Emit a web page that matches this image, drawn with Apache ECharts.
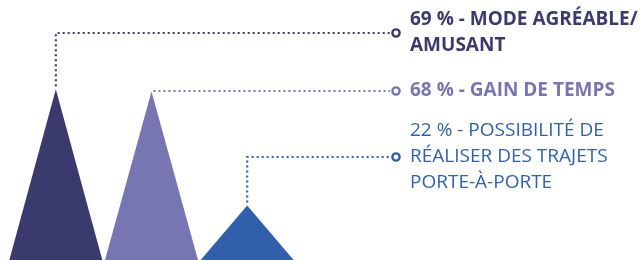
<!DOCTYPE html>
<html>
<head>
<meta charset="utf-8">
<script src="https://cdn.jsdelivr.net/npm/echarts@6/dist/echarts.min.js"></script>
<style>
html,body{margin:0;padding:0;background:#fff;}
#chart{width:641px;height:260px;}
</style>
</head>
<body>
<div id="chart"></div>
<script>
// ---- data ----
const categories = ['Mode agréable/amusant', 'Gain de temps', 'Trajets porte-à-porte'];
const values = [69, 68, 22];
const labelTexts = [
  ['MODE AGRÉABLE/', 'AMUSANT'],
  ['GAIN DE TEMPS'],
  ['POSSIBILITÉ DE', 'RÉALISER DES TRAJETS', 'PORTE-À-PORTE']
];
const colors = ['#3b3a6e', '#7776b3', '#325fab'];

// ---- layout ----
const anchorY = [33, 91, 157];
const circleX = 396;
const textX = 410;
const fontWeights = ['bold', 'bold', 'normal'];

const chart = echarts.init(document.getElementById('chart'));

function buildLabel(i) {
  const lines = labelTexts[i].slice();
  lines[0] = values[i] + ' % - ' + lines[0];
  return lines.join('\n');
}

chart.setOption({
  animation: false,
  grid: { left: 8, right: 346, top: 0, bottom: 0 },
  xAxis: { type: 'category', data: categories, show: false },
  yAxis: { type: 'value', min: 0, max: 105, show: false },
  series: [
    {
      type: 'pictorialBar',
      symbol: 'triangle',
      barWidth: 93,
      symbolSize: ['100%', '100%'],
      data: values.map((v, i) => ({ value: v, itemStyle: { color: colors[i] } })),
      z: 2
    },
    {
      type: 'custom',
      coordinateSystem: 'cartesian2d',
      clip: false,
      z: 3,
      data: values.map((v, i) => [i, v]),
      renderItem: function (params, api) {
        const i = params.dataIndex;
        const apex = api.coord([api.value(0), api.value(1)]);
        const ay = anchorY[i];
        const c = colors[i];
        let pts;
        if (Math.abs(apex[1] - ay) < 4) {
          pts = [[apex[0] + 2, ay], [circleX - 6, ay]];
        } else {
          pts = [[apex[0], apex[1] - 3], [apex[0], ay], [circleX - 6, ay]];
        }
        return {
          type: 'group',
          children: [
            {
              type: 'polyline',
              shape: { points: pts },
              style: { stroke: c, lineWidth: 2.2, lineDash: [2, 3], fill: null }
            },
            {
              type: 'circle',
              shape: { cx: circleX, cy: ay, r: 3.6 },
              style: { stroke: c, lineWidth: 2.4, fill: '#fff' }
            },
            {
              type: 'text',
              x: textX,
              y: ay,
              style: {
                text: buildLabel(i),
                fill: c,
                font: fontWeights[i] + ' 19px "Open Sans"',
                lineHeight: 26,
                align: 'left',
                verticalAlign: 'middle'
              }
            }
          ]
        };
      }
    }
  ]
});
</script>
</body>
</html>
